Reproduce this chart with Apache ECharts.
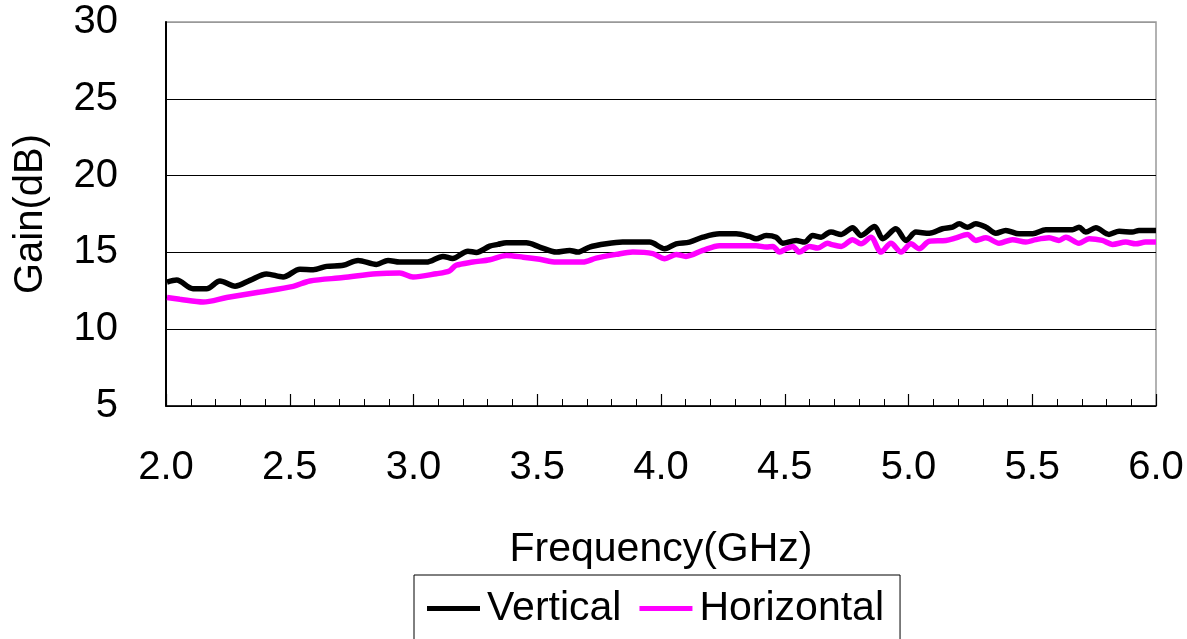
<!DOCTYPE html>
<html>
<head>
<meta charset="utf-8">
<script src="https://cdn.jsdelivr.net/npm/echarts@6/dist/echarts.min.js"></script>
<style>
html,body{margin:0;padding:0;background:#fff;}
#chart{width:1187px;height:639px;}
</style>
</head>
<body>
<div id="chart"></div>
<script>
var seriesNames = ['Vertical', 'Horizontal'];
var xTicks = [2.0, 2.5, 3.0, 3.5, 4.0, 4.5, 5.0, 5.5, 6.0];
var yTicks = [5, 10, 15, 20, 25, 30];

var vertFreq = [2.004,2.043,2.109,2.164,2.218,2.279,2.339,2.406,2.473,2.541,2.595,2.649,2.716,2.776,2.850,2.897,2.944,3.052,3.119,3.158,3.220,3.254,3.308,3.341,
  3.375,3.456,3.510,3.577,3.631,3.664,3.711,3.779,3.845,3.901,3.954,4.015,4.061,4.115,4.169,4.236,4.304,4.357,4.384,4.425,4.465,4.492,4.546,4.580,4.613,4.647,4.673,
  4.687,4.728,4.774,4.808,4.863,4.896,4.949,4.990,5.030,5.084,5.137,5.178,5.205,5.238,5.272,5.313,5.353,5.393,5.447,5.501,5.555,5.662,5.689,5.716,5.757,5.810,5.851,5.904,5.931,6.000];
var vertGain = [13.07,13.2,12.64,12.64,13.14,12.8,13.18,13.6,13.4,13.9,13.87,14.09,14.16,14.48,14.22,14.48,14.37,14.37,14.74,14.6,15.08,15.0,15.41,15.52,
  15.63,15.63,15.35,15.02,15.13,15.02,15.35,15.56,15.67,15.67,15.67,15.24,15.56,15.67,15.99,16.21,16.21,16.04,15.89,16.1,15.99,15.6,15.78,15.67,16.1,15.99,16.25,
  16.32,16.17,16.6,16.1,16.69,15.89,16.54,15.78,16.32,16.25,16.54,16.64,16.86,16.64,16.86,16.64,16.25,16.43,16.21,16.21,16.47,16.47,16.64,16.32,16.6,16.17,16.38,16.32,16.43,16.43];

var horzFreq = [2.004,2.056,2.150,2.245,2.380,2.514,2.581,2.716,2.850,2.944,2.998,3.092,3.145,3.172,3.239,3.308,
  3.375,3.443,3.510,3.577,3.684,3.738,3.819,3.886,3.967,4.015,4.061,4.101,4.169,4.236,4.384,4.425,4.452,4.479,4.506,4.532,4.559,4.600,4.633,4.673,
  4.687,4.728,4.774,4.808,4.848,4.889,4.929,4.970,5.010,5.043,5.084,5.151,5.192,5.238,5.272,5.313,5.366,5.420,5.474,5.514,5.568,5.608,5.636,5.689,5.730,5.783,5.824,5.878,5.918,5.958,6.000];
var horzGain = [12.06,11.95,11.77,12.06,12.42,12.79,13.14,13.36,13.61,13.66,13.4,13.61,13.79,14.16,14.37,14.52,
  14.8,14.69,14.55,14.37,14.37,14.63,14.87,15.02,14.92,14.59,14.87,14.74,15.13,15.44,15.44,15.35,15.39,15.02,15.24,15.39,15.02,15.39,15.28,15.6,
  15.52,15.39,15.83,15.56,15.99,15.02,15.6,15.02,15.56,15.24,15.73,15.78,15.95,16.17,15.78,15.95,15.6,15.83,15.67,15.83,15.95,15.78,15.99,15.6,15.89,15.78,15.52,15.67,15.56,15.67,15.67];

function zip(a, b){ return a.map(function(v,i){ return [v, b[i]]; }); }

var FONT = 'Liberation Sans, Arial, sans-serif';
var chart = echarts.init(document.getElementById('chart'));
chart.setOption({
  backgroundColor: '#fff',
  animation: false,
  grid: {left: 166, top: 22, right: 31, bottom: 233, show: true, borderColor: '#999', borderWidth: 1.5, backgroundColor: 'transparent'},
  xAxis: {
    type: 'value', min: xTicks[0], max: xTicks[xTicks.length-1], interval: 0.5,
    name: 'Frequency(GHz)', nameLocation: 'middle', nameGap: 123,
    nameTextStyle: {fontSize: 41, color: '#000', fontFamily: FONT},
    axisLine: {show: true, lineStyle: {color: '#000', width: 1.5}},
    axisTick: {show: true, inside: true, length: 12, lineStyle: {color: '#000', width: 1.2}},
    minorTick: {show: true, splitNumber: 5, length: 7, lineStyle: {color: '#000', width: 1}},
    splitLine: {show: false},
    axisLabel: {fontSize: 40, color: '#000', fontFamily: FONT, margin: 42, formatter: function(v){ return v.toFixed(1); }}
  },
  yAxis: {
    type: 'value', min: yTicks[0], max: yTicks[yTicks.length-1], interval: 5,
    name: 'Gain(dB)', nameLocation: 'middle', nameGap: 115,
    nameTextStyle: {fontSize: 40, color: '#000', fontFamily: FONT},
    axisLine: {show: true, lineStyle: {color: '#000', width: 2}},
    axisTick: {show: false},
    splitLine: {show: true, lineStyle: {color: ['#000','#000','#000','#000','#000','#999'], width: 1}},
    axisLabel: {fontSize: 40, color: '#000', fontFamily: FONT, margin: 48}
  },
  legend: {
    left: 414, top: 575,
    padding: [13, 16, 13, 13],
    borderColor: '#000', borderWidth: 1,
    itemWidth: 53, itemHeight: 5, itemGap: 18,
    icon: 'rect',
    textStyle: {fontSize: 41, color: '#000', fontFamily: FONT, padding: [0, 0, 0, 2]},
    data: seriesNames
  },
  series: [
    {name: seriesNames[0], type: 'line', data: zip(vertFreq, vertGain), symbol: 'none', smooth: 0.3,
     lineStyle: {color: '#000', width: 5.5}, itemStyle: {color: '#000'}, z: 3},
    {name: seriesNames[1], type: 'line', data: zip(horzFreq, horzGain), symbol: 'none', smooth: 0.3,
     lineStyle: {color: '#ff00ff', width: 5.5}, itemStyle: {color: '#ff00ff'}, z: 2}
  ]
});
</script>
</body>
</html>
